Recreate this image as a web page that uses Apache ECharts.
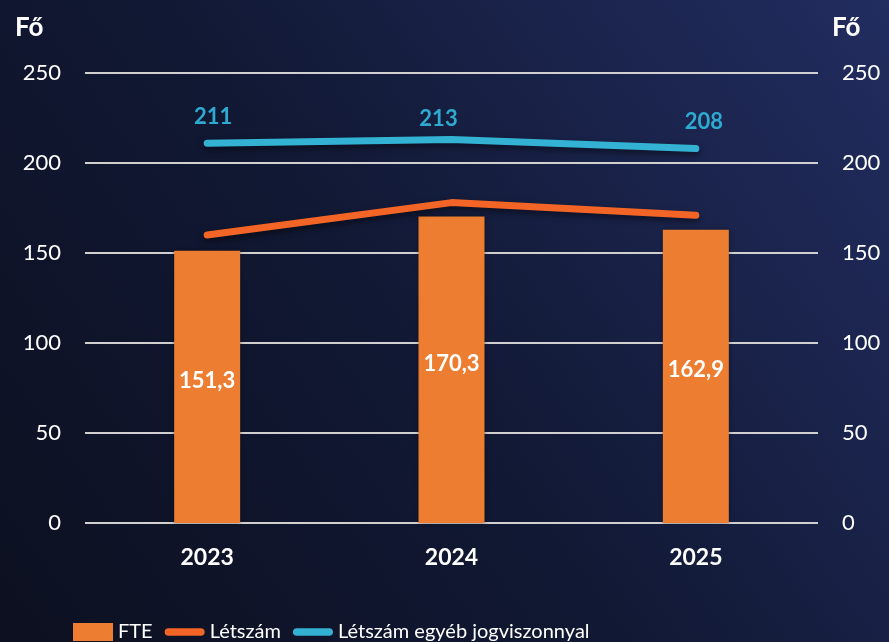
<!DOCTYPE html>
<html><head><meta charset="utf-8">
<script src="https://cdn.jsdelivr.net/npm/echarts@6/dist/echarts.min.js"></script>
<style>html,body{margin:0;padding:0;background:#111731;}#c{width:889px;height:642px;}</style>
</head><body><div id="c"></div>
<script>
const categories = ['2023', '2024', '2025'];
const fte = [151.3, 170.3, 162.9];
const letszam = [160, 178, 171];
const egyeb = [211, 213, 208];
const yTicks = [0, 50, 100, 150, 200, 250];

// label placement (style only)
const egyebLabelOffsets = [[6, -10], [-13, -5], [8, -11]];

const FONT = 'Lato';
const lineIcon = 'path://M0,0 M42,18 M4,5 L38,5 A4,4 0 0 1 38,13 L4,13 A4,4 0 0 1 4,5 Z';
const chart = echarts.init(document.getElementById('c'));
const fmt = v => String(v).replace('.', ',');
chart.setOption({
  backgroundColor: {
    type: 'linear', x: 0, y: 1, x2: 1, y2: 0,
    colorStops: [{offset: 0, color: '#0c1020'}, {offset: 0.45, color: '#111833'}, {offset: 1, color: '#222d60'}]
  },
  textStyle: {fontFamily: FONT},
  title: [
    {text: 'Fő', left: 10, top: 10, textStyle: {color: '#ffffff', fontSize: 26, fontWeight: 'bold', fontFamily: FONT}},
    {text: 'Fő', left: 827, top: 10, textStyle: {color: '#ffffff', fontSize: 26, fontWeight: 'bold', fontFamily: FONT}}
  ],
  grid: {left: 85, right: 71, top: 73, bottom: 119, containLabel: false},
  legend: {
    left: 68, top: 617, itemWidth: 40, itemHeight: 18, itemGap: 12,
    textStyle: {color: '#ffffff', fontSize: 20, fontFamily: FONT},
    data: [
      {name: 'FTE', icon: 'rect'},
      {name: 'Létszám', icon: lineIcon},
      {name: 'Létszám egyéb jogviszonnyal', icon: lineIcon}
    ]
  },
  xAxis: {
    type: 'category', data: categories,
    axisLine: {show: false}, axisTick: {show: false},
    axisLabel: {color: '#ffffff', fontSize: 23, fontWeight: 'bold', margin: 23, fontFamily: FONT}
  },
  yAxis: [
    {type: 'value', min: yTicks[0], max: yTicks[yTicks.length - 1], interval: 50,
     axisLine: {show: false}, axisTick: {show: false},
     axisLabel: {color: '#ffffff', fontSize: 22, margin: 24, fontFamily: FONT},
     splitLine: {lineStyle: {color: '#d0d0d0', width: 2}}},
    {type: 'value', min: yTicks[0], max: yTicks[yTicks.length - 1], interval: 50, position: 'right',
     axisLine: {show: false}, axisTick: {show: false},
     axisLabel: {color: '#ffffff', fontSize: 22, margin: 24, align: 'left', fontFamily: FONT},
     splitLine: {show: false}}
  ],
  series: [
    {name: 'FTE', type: 'bar', data: fte, barWidth: 66,
     itemStyle: {color: '#ED7D31', shadowBlur: 4, shadowColor: 'rgba(0,0,0,0.4)'},
     label: {show: true, position: 'inside', offset: [0, -6], color: '#ffffff', fontSize: 22, fontWeight: 'bold',
             fontFamily: FONT, formatter: p => fmt(p.value)}},
    {name: 'Létszám', type: 'line', data: letszam, symbol: 'none',
     lineStyle: {color: '#F26526', width: 7, cap: 'round', join: 'round', shadowBlur: 6, shadowColor: 'rgba(0,0,0,0.5)', shadowOffsetY: 3},
     itemStyle: {color: '#F26526'}},
    {name: 'Létszám egyéb jogviszonnyal', type: 'line',
     data: egyeb.map((v, i) => ({value: v, label: {offset: egyebLabelOffsets[i]}})),
     symbol: 'circle', symbolSize: 0.1, showSymbol: true,
     lineStyle: {color: '#33B2D4', width: 7, cap: 'round', join: 'round', shadowBlur: 6, shadowColor: 'rgba(0,0,0,0.5)', shadowOffsetY: 3},
     itemStyle: {color: '#33B2D4'},
     label: {show: true, position: 'top', distance: 5, color: '#2EAAD0', fontSize: 22, fontWeight: 'bold', fontFamily: FONT}}
  ]
});
</script></body></html>
